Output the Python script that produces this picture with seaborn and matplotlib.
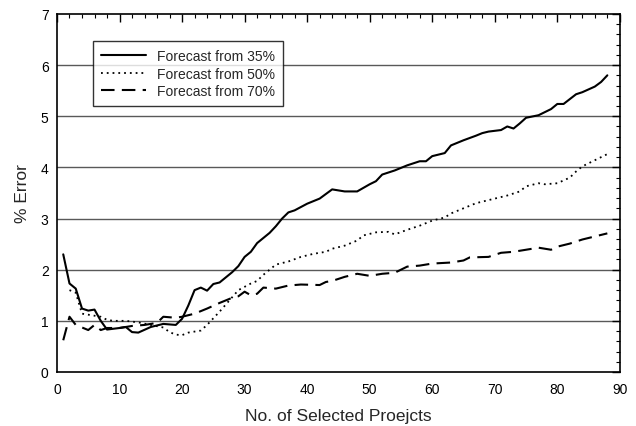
import matplotlib
matplotlib.use("Agg")
import matplotlib.pyplot as plt
import seaborn as sns
import pandas as pd
import numpy as np
from matplotlib.ticker import MultipleLocator

# forecast from 35%
x35 = [1, 2, 3, 4, 5, 6, 7, 8, 10, 11, 12, 13, 15, 17, 19, 20, 21, 22, 23, 24,
       25, 26, 27, 28, 29, 30, 31, 32, 33, 34, 35, 36, 37, 38, 40, 42, 44, 46, 48, 50,
       51, 52, 54, 56, 58, 59, 60, 62, 63, 65, 67, 68, 69, 71, 72, 73, 74, 75, 77, 79,
       80, 81, 83, 84, 86, 87, 88]
y35 = [2.30, 1.73, 1.63, 1.24, 1.20, 1.22, 1.00, 0.83, 0.86, 0.88, 0.78, 0.77, 0.88, 0.94, 0.92, 1.04, 1.30, 1.60, 1.65, 1.59,
       1.72, 1.75, 1.85, 1.95, 2.07, 2.25, 2.35, 2.52, 2.62, 2.72, 2.85, 3.00, 3.12, 3.16, 3.29, 3.39, 3.57, 3.53, 3.53, 3.67,
       3.73, 3.86, 3.94, 4.04, 4.12, 4.12, 4.22, 4.28, 4.43, 4.53, 4.62, 4.67, 4.70, 4.73, 4.80, 4.76, 4.86, 4.97, 5.02, 5.14,
       5.24, 5.24, 5.43, 5.47, 5.58, 5.67, 5.80]

# forecast from 50%
x50 = [2, 3, 4, 5, 6, 7, 8, 9, 11, 13, 15, 17, 18, 19, 20, 21, 23, 24, 25, 26,
       27, 28, 29, 31, 32, 33, 35, 37, 39, 41, 43, 44, 46, 48, 49, 51, 53, 54, 56, 58,
       60, 62, 63, 65, 67, 68, 70, 72, 74, 75, 77, 78, 80, 82, 83, 84, 86, 88]
y50 = [1.60, 1.55, 1.14, 1.12, 1.10, 1.08, 1.02, 1.00, 1.00, 0.97, 0.92, 0.87, 0.78, 0.73, 0.72, 0.77, 0.81, 0.92, 1.05, 1.18,
       1.32, 1.46, 1.60, 1.73, 1.78, 1.90, 2.10, 2.16, 2.25, 2.31, 2.35, 2.41, 2.47, 2.57, 2.67, 2.73, 2.74, 2.69, 2.78, 2.86,
       2.96, 3.02, 3.10, 3.20, 3.30, 3.33, 3.39, 3.45, 3.53, 3.63, 3.69, 3.67, 3.69, 3.80, 3.92, 4.02, 4.14, 4.26]

# forecast from 70%
x70 = [1, 2, 3, 5, 6, 7, 8, 10, 12, 14, 16, 17, 19, 20, 22, 24, 26, 28, 29, 30,
       31, 32, 33, 35, 37, 39, 42, 43, 44, 46, 48, 50, 52, 54, 56, 58, 60, 63, 65, 66,
       69, 71, 73, 75, 77, 79, 80, 82, 84, 86, 88]
y70 = [0.62, 1.08, 0.92, 0.82, 0.92, 0.82, 0.86, 0.86, 0.90, 0.92, 0.96, 1.08, 1.06, 1.08, 1.14, 1.24, 1.35, 1.45, 1.48, 1.57,
       1.50, 1.53, 1.65, 1.63, 1.69, 1.71, 1.70, 1.76, 1.78, 1.86, 1.92, 1.88, 1.92, 1.94, 2.06, 2.08, 2.12, 2.14, 2.18, 2.24,
       2.25, 2.33, 2.35, 2.39, 2.43, 2.39, 2.45, 2.51, 2.59, 2.65, 2.71]

labels = ["Forecast from 35%", "Forecast from 50%", "Forecast from 70%"]

sns.set_style("white")
plt.rcParams['font.family'] = ['Liberation Sans', 'DejaVu Sans']

fig = plt.figure(figsize=(6.36, 4.27), dpi=100)
ax = fig.add_axes([0.0896, 0.1265, 0.885, 0.8385])

sns.lineplot(x=x35, y=y35, ax=ax, color='black', lw=1.5, label=labels[0])
sns.lineplot(x=x50, y=y50, ax=ax, color='black', lw=1.3, linestyle=(0, (1, 2.2)), label=labels[1])
sns.lineplot(x=x70, y=y70, ax=ax, color='black', lw=1.5, linestyle=(0, (6.5, 3.5)), label=labels[2])

for yy in range(1, 7):
    ax.axhline(yy, color='0.35', lw=1.0, zorder=0)

ax.set_xlim(0, 90)
ax.set_ylim(0, 7)
ax.xaxis.set_major_locator(MultipleLocator(10))
ax.xaxis.set_minor_locator(MultipleLocator(2))
ax.yaxis.set_major_locator(MultipleLocator(1))
ax.yaxis.set_minor_locator(MultipleLocator(0.2))
ax.tick_params(which='both', direction='in', top=True, right=True, colors='black', labelsize=10)
ax.tick_params(which='major', length=6, width=1)
ax.tick_params(which='minor', length=3, width=0.8)
ax.tick_params(axis='x', which='major', pad=7)
ax.tick_params(axis='y', which='major', pad=6)
for s in ax.spines.values():
    s.set_color('black')
    s.set_linewidth(1.2)

ax.set_xlabel("No. of Selected Proejcts", fontsize=12.5, labelpad=9)
ax.set_ylabel("% Error", fontsize=12.5, labelpad=8)

leg = ax.legend(loc='upper left', bbox_to_anchor=(0.064, 0.925), borderaxespad=0,
                frameon=True, fancybox=False, fontsize=10, handlelength=3.2,
                labelspacing=0.25, borderpad=0.6)
leg.get_frame().set_edgecolor('black')
leg.get_frame().set_linewidth(1.0)

fig.savefig("out.png", dpi=100)
